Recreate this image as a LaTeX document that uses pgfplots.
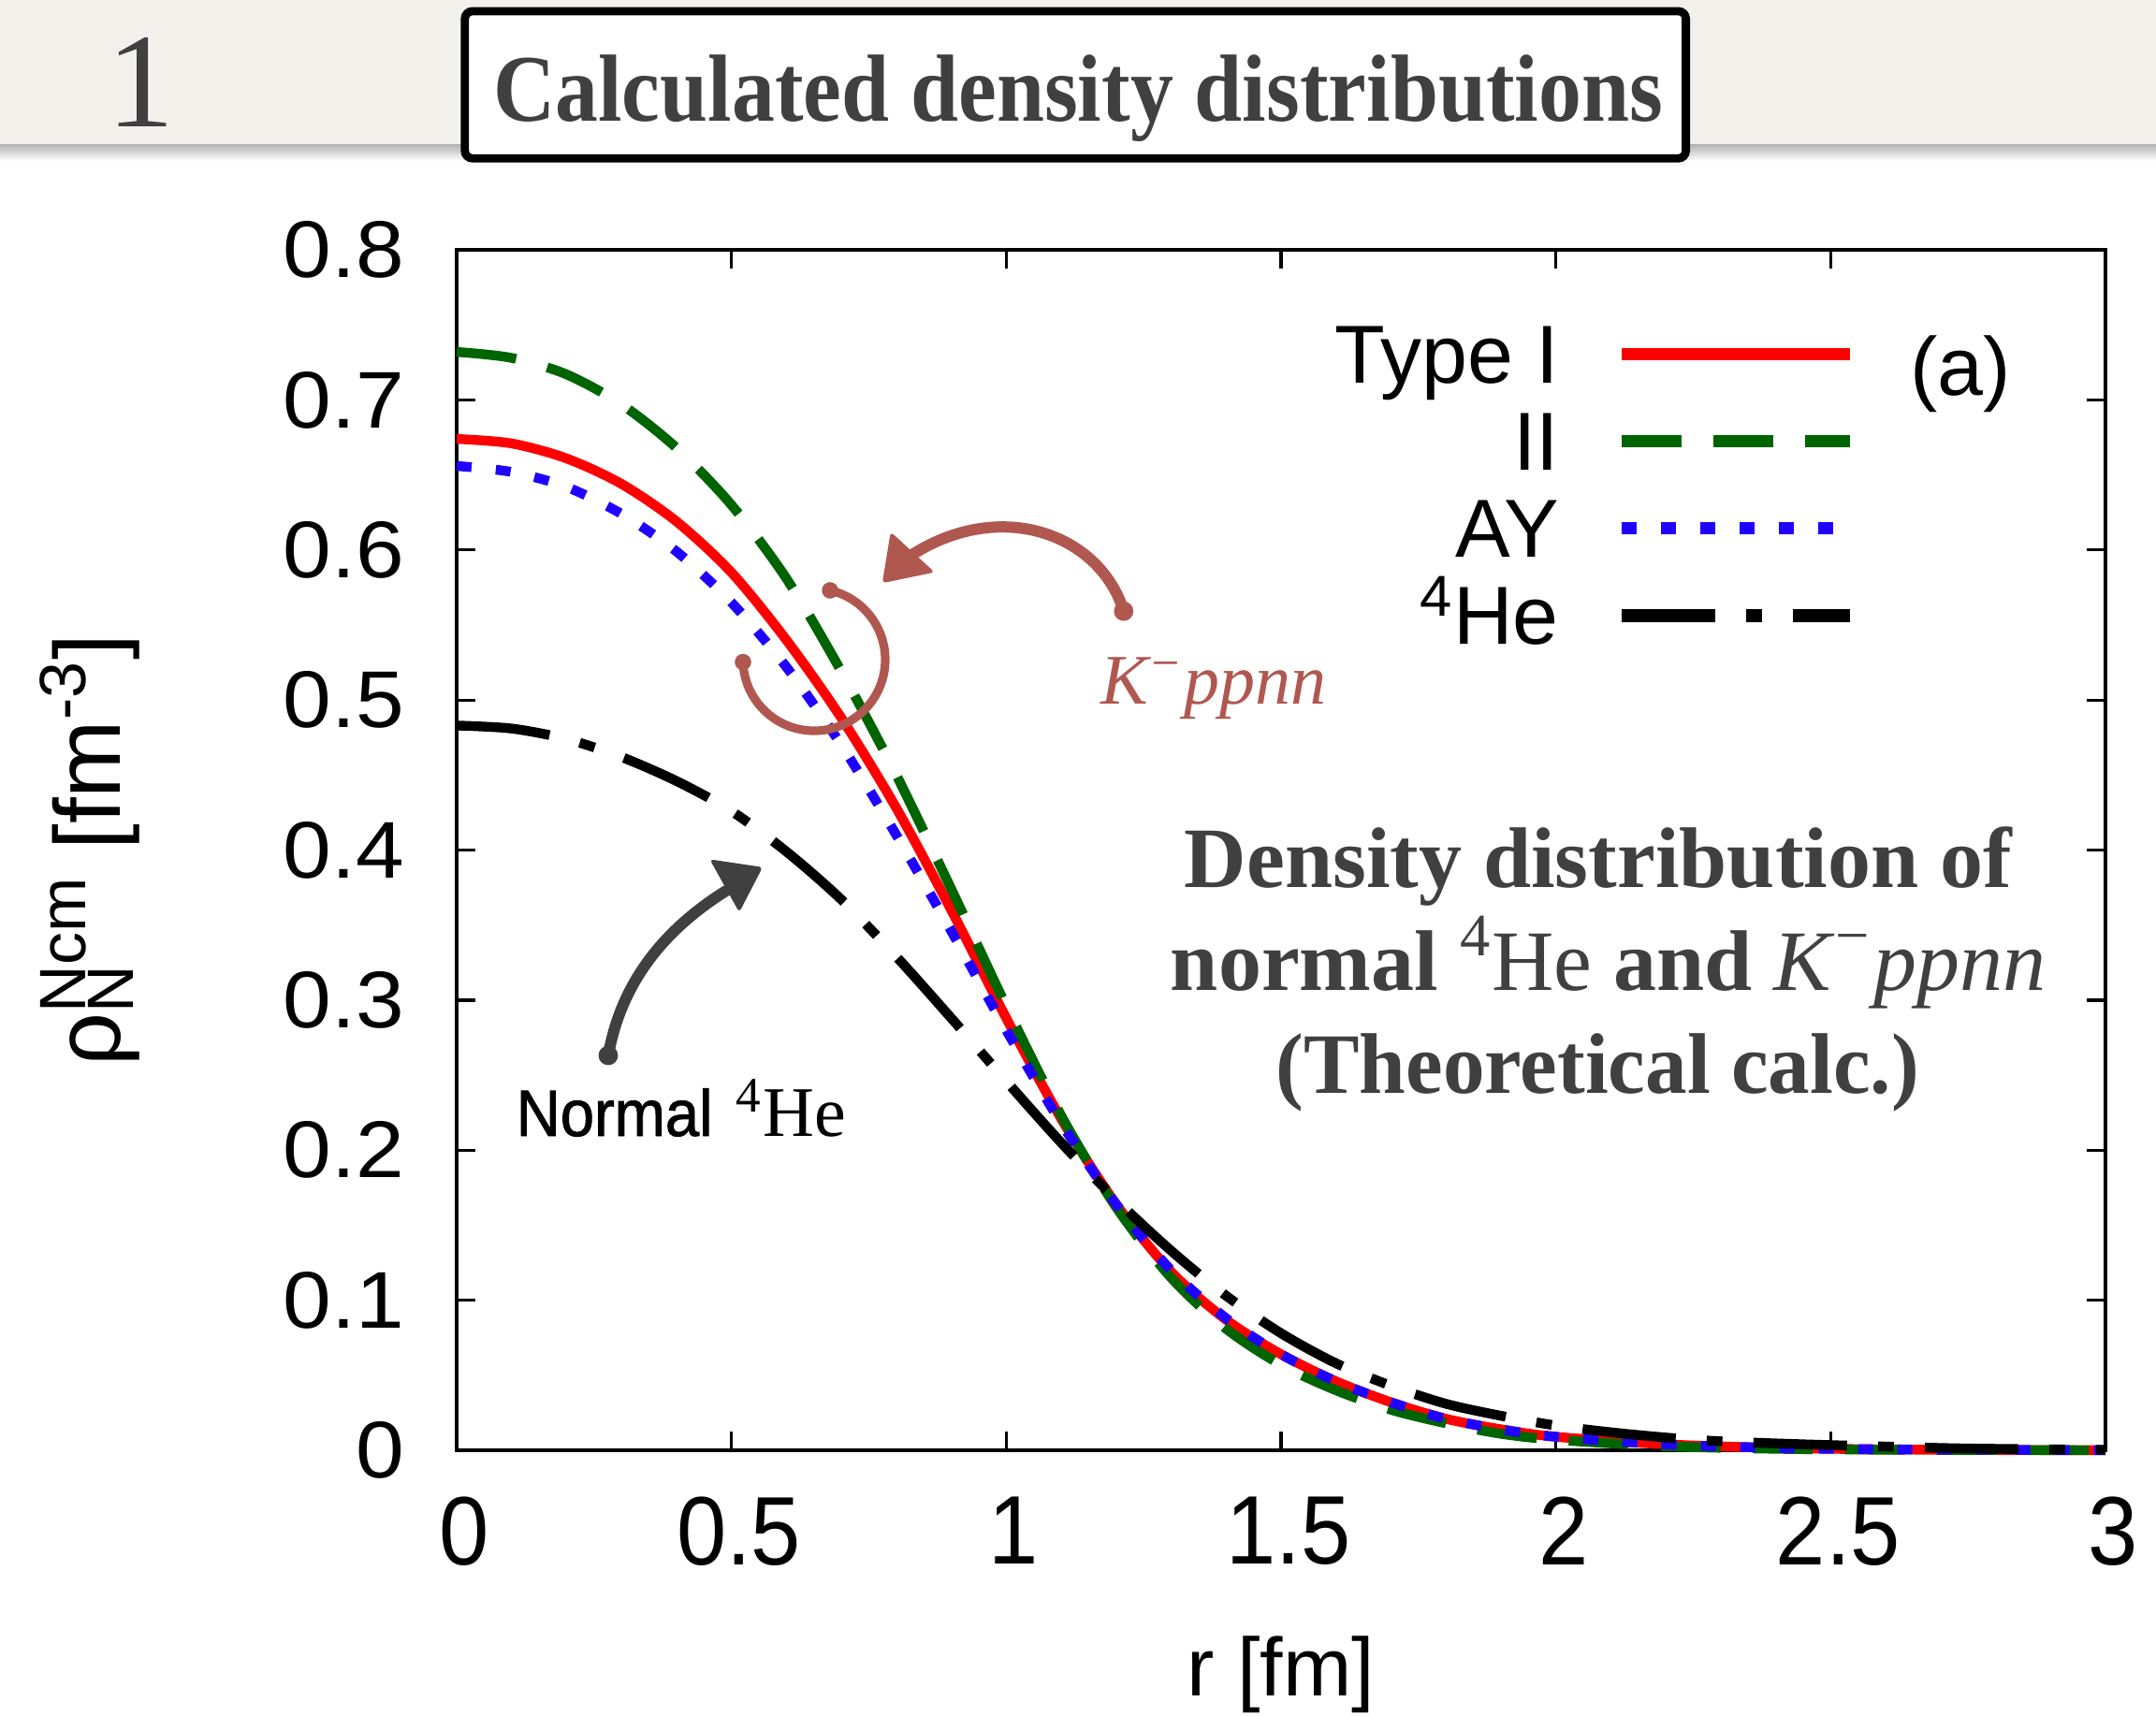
\documentclass[border=0pt]{standalone}
\usepackage{fontspec}
\setmainfont{Liberation Sans}
\newfontfamily\serif{Liberation Serif}
\newfontfamily\normalfnt{Liberation Sans}[FakeBold=1.3, FakeStretch=0.93]
\usepackage{pgfplots}
\pgfplotsset{compat=1.18}
\definecolor{banner}{RGB}{242,240,235}
\definecolor{txtgray}{RGB}{64,64,64}
\definecolor{annobrown}{RGB}{176,88,80}
\definecolor{gpred}{RGB}{255,0,0}
\definecolor{gpgreen}{RGB}{0,100,0}
\definecolor{gpblue}{RGB}{32,0,255}
\begin{document}
\begin{tikzpicture}[x=1pt,y=1pt]
\path[use as bounding box] (0,0) rectangle (576,-458.25);
\fill[white] (0,0) rectangle (576,-458.25);
\fill[banner] (0,0) rectangle (576,-38.5);
\shade[top color=black!30, bottom color=white] (0,-38.5) rectangle (576,-43);
\node[anchor=base, font=\serif\fontsize{36}{36}\selectfont, text=txtgray, inner sep=0pt] at (37.5,-33.75) {1};
\draw[line width=2.2pt, rounded corners=2pt, fill=white] (124.2,-3) rectangle (450.4,-42.3);
\node[anchor=base, font=\serif\bfseries\fontsize{25.5}{25.5}\selectfont, text=txtgray, inner sep=0pt] at (288,-32.3) {\scalebox{0.9}[1]{Calculated density distributions}};

\begin{axis}[
  at={(122pt,-387.5pt)}, anchor=south west,
  width=440.5pt, height=320.75pt, scale only axis,
  xmin=0, xmax=3, ymin=0, ymax=0.8,
  xtick={0,0.5,1,1.5,2,2.5,3},
  ytick={0,0.1,0.2,0.3,0.4,0.5,0.6,0.7,0.8},
  xtick pos=both, ytick pos=both, tick align=inside,
  major tick length=5pt,
  axis line style={line width=0.8pt},
  every tick/.style={line width=0.8pt, black},
  clip=false,
  /pgf/number format/assume math mode=true,
  xticklabel style={font=\fontsize{26}{26}\selectfont, yshift=-9pt, xshift=2pt},
  xticklabel={\scalebox{0.92}[1]{\pgfmathprintnumber{\tick}}},
  yticklabel style={font=\fontsize{21.5}{21.5}\selectfont, xshift=-10.5pt,
     /pgf/number format/fixed, /pgf/number format/precision=1},
  yticklabel={\scalebox{1.08}[1]{\pgfmathprintnumber{\tick}}},
  xlabel={r [fm]},
  xlabel style={at={(axis description cs:0.5,0)}, anchor=north, inner sep=0pt, yshift=-49.5pt, font=\fontsize{22}{22}\selectfont},
  ylabel={ρ\makebox[0pt][l]{\textsubscript{N}}\textsuperscript{Ncm} [fm\textsuperscript{-3}]},
  ylabel style={at={(axis description cs:-0.2225,0.5)}, anchor=center, font=\fontsize{25}{25}\selectfont},
  legend cell align=right,
  legend plot pos=right,
  legend style={at={(axis description cs:0.849,0.9397)}, anchor=north east,
     draw=none, fill=none, inner sep=0pt, row sep=2.7pt, column sep=15pt,
     font=\fontsize{22}{22}\selectfont,
     nodes={inner sep=0pt, text height=16pt, text depth=4.6pt}},
  legend image code/.code={\draw[#1] (0pt,2pt) -- (61pt,2pt);},
  legend image post style={line width=3.3pt},
]
\addplot[gpred, line width=2.6pt, smooth] coordinates {
(0,0.674)(0.1,0.671)(0.2,0.661)(0.3,0.644)(0.4,0.619)(0.5,0.585)(0.6,0.540)(0.7,0.488)(0.8,0.428)(0.9,0.360)(1.0,0.288)(1.1,0.221)(1.2,0.164)(1.3,0.119)(1.4,0.087)(1.5,0.064)(1.6,0.046)(1.7,0.032)(1.8,0.021)(1.9,0.014)(2.0,0.009)(2.2,0.004)(2.4,0.0016)(2.6,0.0006)(2.8,0.0002)(3.0,0.0001)};
\addlegendentry{Type I}
\addplot[gpgreen, line width=2.6pt, dash pattern=on 16pt off 8.6pt, smooth] coordinates {
(0,0.732)(0.1,0.728)(0.2,0.717)(0.3,0.697)(0.4,0.668)(0.5,0.630)(0.6,0.581)(0.7,0.519)(0.8,0.450)(0.9,0.374)(1.0,0.296)(1.1,0.223)(1.2,0.162)(1.3,0.115)(1.4,0.081)(1.5,0.057)(1.6,0.040)(1.7,0.027)(1.8,0.018)(1.9,0.011)(2.0,0.007)(2.2,0.0027)(2.4,0.001)(2.6,0.0004)(3.0,0)};
\addlegendentry{II}
\addplot[gpblue, line width=2.6pt, dash pattern=on 4pt off 6.5pt, smooth] coordinates {
(0,0.656)(0.1,0.652)(0.2,0.642)(0.3,0.624)(0.4,0.599)(0.5,0.565)(0.6,0.522)(0.7,0.470)(0.8,0.410)(0.9,0.346)(1.0,0.280)(1.1,0.218)(1.2,0.164)(1.3,0.120)(1.4,0.088)(1.5,0.064)(1.6,0.046)(1.7,0.032)(1.8,0.021)(1.9,0.014)(2.0,0.009)(2.2,0.004)(2.4,0.0016)(2.6,0.0006)(3.0,0.0001)};
\addlegendentry{AY}
\addplot[black, line width=2.6pt, dash pattern=on 25pt off 8.3pt on 4.2pt off 8.3pt, smooth] coordinates {
(0,0.483)(0.1,0.481)(0.2,0.474)(0.3,0.462)(0.4,0.446)(0.5,0.426)(0.6,0.399)(0.7,0.367)(0.8,0.329)(0.9,0.288)(1.0,0.246)(1.1,0.205)(1.2,0.167)(1.3,0.133)(1.4,0.103)(1.5,0.078)(1.6,0.058)(1.7,0.043)(1.8,0.031)(1.9,0.023)(2.0,0.0165)(2.1,0.012)(2.2,0.0085)(2.3,0.006)(2.45,0.004)(2.6,0.0025)(2.75,0.0012)(3.0,0.0003)};
\addlegendentry{\textsuperscript{4}He}
\end{axis}

\node[font=\fontsize{22}{22}\selectfont, inner sep=0pt] at (523.8,-100) {(a)};

% K- ppnn annotation
\draw[annobrown, line width=3pt, line cap=round] (300.2,-163.3) .. controls (294,-143) and (268,-133) .. (244,-148);
\fill[annobrown] (300.2,-163.3) circle (2.6);
\fill[annobrown, rounded corners=1pt] (237.95,-142.1) -- (235.7,-155.8) -- (249.7,-152.9) -- cycle;
\draw[annobrown, line width=2.3pt, line cap=round] (221.77,-157.74) arc[start angle=77, end angle=-178, radius=19];
\fill[annobrown] (221.77,-157.74) circle (2.2);
\fill[annobrown] (198.5,-176.9) circle (2.2);
\node[anchor=base west, inner sep=0pt, text=annobrown, font=\serif\itshape\fontsize{19}{19}\selectfont] at (293.9,-188) {K\textsuperscript{−}ppnn};

% Normal 4He annotation
\draw[txtgray, line width=3pt, line cap=round] (162.5,-282) .. controls (166,-262) and (178,-248) .. (194,-238);
\fill[txtgray] (162.5,-282) circle (2.6);
\fill[txtgray, rounded corners=1pt] (189.6,-229.6) -- (203.75,-231.7) -- (197.5,-243.75) -- cycle;
\node[anchor=base west, inner sep=0pt, font=\normalfnt\fontsize{17.5}{17.5}\selectfont] at (137.75,-303.5) {Normal};
\node[anchor=base west, inner sep=0pt, font=\serif\fontsize{19}{19}\selectfont] at (196.5,-303.5) {\textsuperscript{4}He};

% text block
\node[anchor=base, inner sep=0pt, text=txtgray, font=\serif\bfseries\fontsize{23}{23}\selectfont] at (427,-237) {Density distribution of};
\node[anchor=base, inner sep=0pt, text=txtgray, font=\serif\bfseries\fontsize{23}{23}\selectfont] at (429.7,-264.5) {normal {\mdseries\textsuperscript{4}He} and {\mdseries\itshape K\textsuperscript{−}ppnn}};
\node[anchor=base, inner sep=0pt, text=txtgray, font=\serif\bfseries\fontsize{23}{23}\selectfont] at (426.8,-292) {\scalebox{0.97}[1]{(Theoretical calc.)}};
\end{tikzpicture}
\end{document}
